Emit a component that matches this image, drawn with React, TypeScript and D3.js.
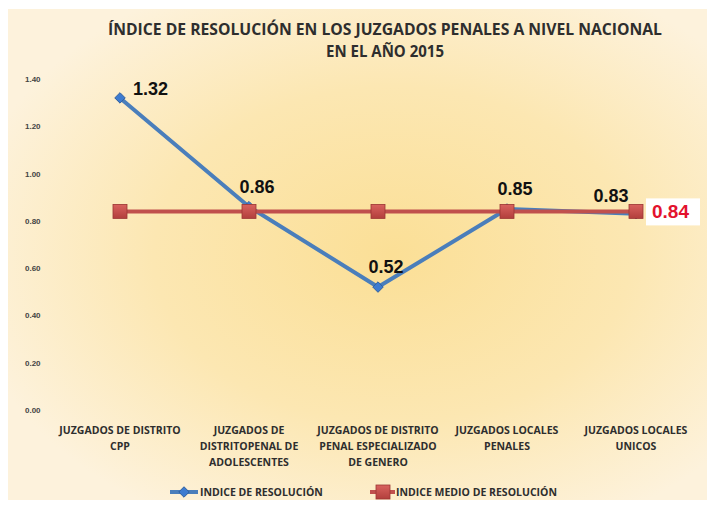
import React from "react";
import * as d3 from "d3";

const title = [
  "ÍNDICE DE RESOLUCIÓN EN LOS JUZGADOS PENALES A NIVEL NACIONAL",
  "EN EL AÑO 2015",
];
const categories = [
  "JUZGADOS DE DISTRITO CPP",
  "JUZGADOS DE DISTRITOPENAL DE ADOLESCENTES",
  "JUZGADOS DE DISTRITO PENAL ESPECIALIZADO DE GENERO",
  "JUZGADOS LOCALES PENALES",
  "JUZGADOS LOCALES UNICOS",
];
const categoryLines = [
  ["JUZGADOS DE DISTRITO", "CPP"],
  ["JUZGADOS DE", "DISTRITOPENAL DE", "ADOLESCENTES"],
  ["JUZGADOS DE DISTRITO", "PENAL ESPECIALIZADO", "DE GENERO"],
  ["JUZGADOS LOCALES", "PENALES"],
  ["JUZGADOS LOCALES", "UNICOS"],
];
const indiceResolucion = [1.32, 0.86, 0.52, 0.85, 0.83];
const indiceMedio = [0.84, 0.84, 0.84, 0.84, 0.84];
const yTicks = [0, 0.2, 0.4, 0.6, 0.8, 1.0, 1.2, 1.4];
const seriesNames = ["INDICE DE RESOLUCIÓN", "INDICE MEDIO DE RESOLUCIÓN"];

const W = 707;
const H = 505;
const BLUE = "#4a7ebb";
const RED = "#c0504d";
const narrow = "'Liberation Sans Narrow', 'Open Sans', sans-serif";
const arial = "'Liberation Sans', Arial, sans-serif";

export default function App() {
  const x = d3.scaleBand().domain(categories).range([55.5, 700.5]).padding(0);
  const cx = (c: string) => (x(c) as number) + x.bandwidth() / 2;
  const y = d3.scaleLinear().domain([0, 1.4]).range([410, 79]);

  const line = d3
    .line<number>()
    .x((_, i) => cx(categories[i]))
    .y((d) => y(d));

  const diamond = d3.symbol().type(d3.symbolDiamond2).size(70)();

  // label placement, similar to what excel did
  const labelPos = (i: number) => {
    if (i === 0) return { dx: 13, dy: -3, anchor: "start" };
    if (i === categories.length - 1) return { dx: -25, dy: -12, anchor: "middle" };
    return { dx: 8, dy: -14, anchor: "middle" };
  };

  const lastX = cx(categories[categories.length - 1]);
  const medioY = y(indiceMedio[indiceMedio.length - 1]);

  return (
    <svg
      width={W}
      height={H}
      style={{ position: "absolute", left: 0, top: 0 }}
    >
      <defs>
        <radialGradient id="bg" cx="0.55" cy="0.5" r="0.62">
          <stop offset="0" stopColor="#fbdf96" />
          <stop offset="0.55" stopColor="#fce7b2" />
          <stop offset="1" stopColor="#fdf2dc" />
        </radialGradient>
        <linearGradient id="sq" x1="0" y1="0" x2="0" y2="1">
          <stop offset="0" stopColor="#d9625e" />
          <stop offset="1" stopColor="#b23f3c" />
        </linearGradient>
      </defs>
      <rect width={W} height={H} fill="#ffffff" />
      <rect x={8} y={9} width={W - 8} height={491} fill="url(#bg)" />

      {title.map((t, i) => (
        <text
          key={t}
          x={385}
          y={35 + i * 22}
          textAnchor="middle"
          fontFamily={narrow}
          fontWeight="bold"
          fontSize={16.5}
          fill="#2e2e2e"
          textLength={i === 0 ? 554 : 118}
          lengthAdjust="spacingAndGlyphs"
        >
          {t}
        </text>
      ))}

      {yTicks.map((t) => (
        <text
          key={t}
          x={25}
          y={y(t) + 3}
          fontFamily={arial}
          fontWeight="bold"
          fontSize={8}
          fill="#444444"
        >
          {d3.format(".2f")(t)}
        </text>
      ))}

      {categoryLines.map((lines, i) =>
        lines.map((l, j) => (
          <text
            key={i + "-" + j}
            x={cx(categories[i])}
            y={434 + j * 16}
            textAnchor="middle"
            fontFamily={narrow}
            fontWeight="bold"
            fontSize={10.5}
            fill="#2e2e2e"
          >
            {l}
          </text>
        ))
      )}

      <path
        d={line(indiceResolucion) || ""}
        fill="none"
        stroke={BLUE}
        strokeWidth={4}
        strokeLinejoin="round"
      />
      {indiceResolucion.map((v, i) => (
        <path
          key={i}
          d={diamond || ""}
          transform={`translate(${cx(categories[i])},${y(v)})`}
          fill="#3d7bd0"
          stroke="#2f5f9e"
          strokeWidth={1}
        />
      ))}

      <path
        d={line(indiceMedio) || ""}
        fill="none"
        stroke={RED}
        strokeWidth={4}
      />
      {indiceMedio.map((v, i) => (
        <rect
          key={i}
          x={cx(categories[i]) - 7}
          y={y(v) - 7}
          width={14}
          height={14}
          fill="url(#sq)"
          stroke="#9c3532"
          strokeWidth={0.8}
        />
      ))}

      {indiceResolucion.map((v, i) => {
        const p = labelPos(i);
        return (
          <text
            key={i}
            x={cx(categories[i]) + p.dx}
            y={y(v) + p.dy}
            textAnchor={p.anchor}
            fontFamily={arial}
            fontWeight="bold"
            fontSize={18}
            fill="#111111"
          >
            {d3.format(".2f")(v)}
          </text>
        );
      })}

      <rect x={lastX + 10} y={medioY - 13} width={54} height={27} fill="#ffffff" />
      <text
        x={lastX + 16}
        y={medioY + 7}
        fontFamily={arial}
        fontWeight="bold"
        fontSize={19}
        fill="#e3122d"
      >
        {d3.format(".2f")(indiceMedio[indiceMedio.length - 1])}
      </text>

      <g>
        <line x1={170} x2={198} y1={492} y2={492} stroke={BLUE} strokeWidth={4} />
        <path d={diamond || ""} transform="translate(184,492)" fill="#3d7bd0" stroke="#2f5f9e" />
        <text x={200} y={496} fontFamily={narrow} fontWeight="bold" fontSize={10.5} fill="#2e2e2e">
          {seriesNames[0]}
        </text>
        <line x1={370} x2={395} y1={492} y2={492} stroke={RED} strokeWidth={4} />
        <rect x={376} y={485} width={14} height={14} fill="url(#sq)" stroke="#9c3532" strokeWidth={0.8} />
        <text x={396} y={496} fontFamily={narrow} fontWeight="bold" fontSize={10.5} fill="#2e2e2e">
          {seriesNames[1]}
        </text>
      </g>
    </svg>
  );
}
